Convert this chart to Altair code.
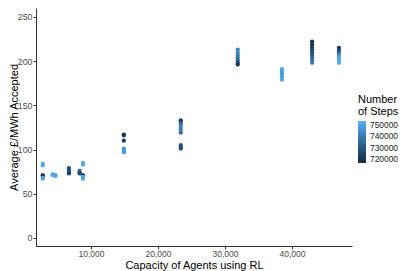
import altair as alt
import pandas as pd

# ---- data ----
capacity = (
    [2800] * 6 + [4300] * 3 + [4700] * 2 + [6700] * 4 + [8300] * 3 + [8800] * 5
    + [14900] * 6 + [23400] * 9 + [31900] * 7 + [38500] * 5 + [43000] * 9 + [47000] * 7
)
avg_price = [
    84, 82, 71, 70, 68, 67,
    71, 72, 71,
    71, 70,
    79, 77, 75, 73,
    76, 74, 73,
    85, 83, 71, 69, 67,
    117, 116, 110, 101, 99, 97,
    133, 131, 129, 126, 123, 119, 105, 103, 101,
    213, 210, 207, 204, 201, 198, 196,
    191, 188, 185, 182, 179,
    222, 219, 216, 213, 210, 207, 204, 201, 198,
    215, 212, 209, 206, 203, 200, 198,
]
steps = [
    752000, 751000, 719000, 721000, 752000, 750000,
    750000, 748000, 752000,
    749000, 751000,
    728000, 725000, 730000, 722000,
    735000, 730000, 726000,
    752000, 751000, 722000, 752000, 750000,
    719000, 720000, 721000, 745000, 748000, 747000,
    722000, 724000, 735000, 742000, 740000, 736000, 730000, 726000, 728000,
    742000, 744000, 740000, 738000, 735000, 725000, 720000,
    750000, 748000, 746000, 748000, 750000,
    718000, 720000, 722000, 724000, 727000, 730000, 734000, 737000, 740000,
    720000, 726000, 735000, 745000, 750000, 752000, 751000,
]

x_ticks = [10000, 20000, 30000, 40000]
y_ticks = [0, 50, 100, 150, 200, 250]
legend_ticks = [720000, 730000, 740000, 750000]

df = pd.DataFrame({"capacity": capacity, "price": avg_price, "steps": steps})

FONT = "Liberation Sans"

chart = (
    alt.Chart(df)
    .mark_circle(size=18, opacity=1)
    .encode(
        x=alt.X(
            "capacity:Q",
            scale=alt.Scale(domain=[1791, 48955], nice=False, zero=False),
            axis=alt.Axis(
                values=x_ticks,
                format=",.0f",
                title="Capacity of Agents using RL",
                grid=False,
                labelPadding=0,
                labelFontSize=8.5,
                titleY=22,
                titleBaseline="alphabetic",
            ),
        ),
        y=alt.Y(
            "price:Q",
            scale=alt.Scale(domain=[-9.05, 260], nice=False, zero=False),
            axis=alt.Axis(
                values=y_ticks,
                title="Average £/MWh Accepted",
                grid=False,
                labelPadding=1,
                titleX=-19,
                titleY=119,
                titleBaseline="alphabetic",
            ),
        ),
        color=alt.Color(
            "steps:Q",
            scale=alt.Scale(
                domain=[716400, 753600],
                range=["#132B43", "#56B1F7"],
                interpolate="lab",
            ),
            legend=alt.Legend(
                title=["Number", "of Steps"],
                orient="none",
                legendX=322,
                legendY=86,
                values=legend_ticks,
                format="d",
                gradientLength=42,
                gradientThickness=8,
                gradientStrokeWidth=0,
                labelOffset=4,
                titlePadding=4,
                titleLineHeight=12,
            ),
        ),
    )
    .properties(
        width=316,
        height=238,
        autosize=alt.AutoSizeParams(type="none"),
        padding={"left": 28, "top": 0, "right": 47, "bottom": 25},
    )
    .configure_view(stroke=None)
    .configure_axis(
        domainColor="#333333",
        domainWidth=1,
        tickColor="#333333",
        tickSize=3,
        labelColor="#4D4D4D",
        labelFontSize=8.8,
        labelFont=FONT,
        titleFont=FONT,
        titleFontSize=11,
        titleFontWeight="normal",
        titleColor="#000000",
    )
    .configure_legend(
        titleFont=FONT,
        titleFontSize=11,
        titleFontWeight="normal",
        titleColor="#000000",
        labelFont=FONT,
        labelFontSize=8.4,
        labelColor="#1a1a1a",
        padding=0,
    )
)

chart.save("out.html", embed_options={"renderer": "svg", "actions": False})
